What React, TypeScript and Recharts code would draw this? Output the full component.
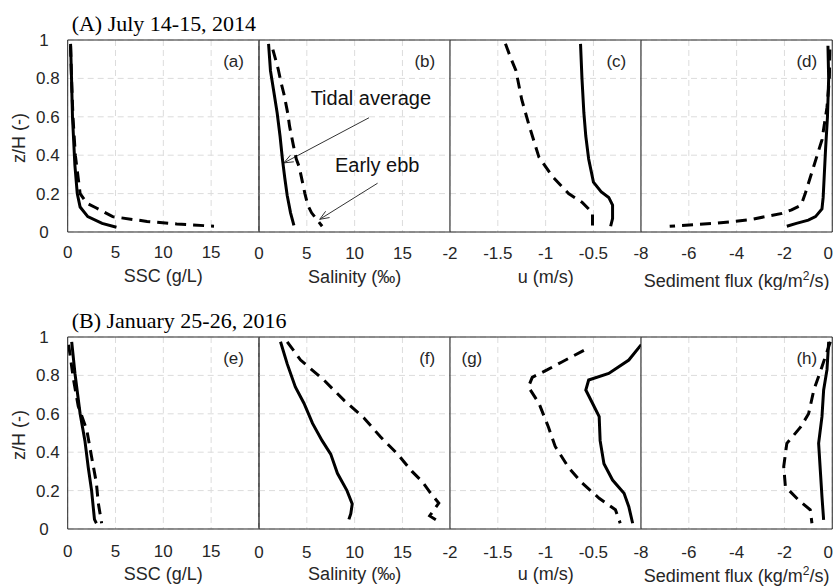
import React from 'react';
import {
  ScatterChart, Scatter, XAxis, YAxis, CartesianGrid, ReferenceLine, ReferenceDot, ReferenceArea,
} from 'recharts';

type Pt = [number, number]; // [value, z/H]

// (A) July 14-15, 2014 — solid = tidal average, dashed = early ebb
const sscJulTidal: Pt[] = [[0.3, 0.98], [0.4, 0.8], [0.5, 0.6], [0.75, 0.35], [1.0, 0.2], [1.3, 0.13], [2.1, 0.08], [3.6, 0.045], [5.1, 0.025]];
const sscJulEbb: Pt[] = [[0.3, 0.97], [0.4, 0.8], [0.55, 0.6], [0.8, 0.4], [1.3, 0.2], [2.0, 0.15], [3.0, 0.125], [4.7, 0.08], [8.3, 0.055], [11.4, 0.042], [15.3, 0.03]];
const salJulTidal: Pt[] = [[1.0, 0.98], [1.2, 0.84], [1.55, 0.73], [1.9, 0.62], [2.2, 0.5], [2.45, 0.38], [2.7, 0.28], [2.95, 0.19], [3.3, 0.1], [3.65, 0.035]];
const salJulEbb: Pt[] = [[1.45, 0.95], [2.0, 0.85], [2.3, 0.78], [2.6, 0.72], [3.0, 0.62], [3.2, 0.55], [3.6, 0.45], [3.9, 0.38], [4.2, 0.34], [4.5, 0.27], [4.8, 0.2], [5.1, 0.14], [5.5, 0.1], [6.6, 0.03]];
const uJulTidal: Pt[] = [[-0.635, 0.98], [-0.62, 0.8], [-0.6, 0.62], [-0.58, 0.5], [-0.55, 0.38], [-0.5, 0.26], [-0.42, 0.21], [-0.34, 0.18], [-0.3, 0.14], [-0.3, 0.07], [-0.32, 0.03]];
const uJulEbb: Pt[] = [[-1.42, 0.98], [-1.36, 0.9], [-1.31, 0.84], [-1.25, 0.69], [-1.17, 0.55], [-1.07, 0.39], [-0.93, 0.29], [-0.76, 0.2], [-0.62, 0.155], [-0.51, 0.1], [-0.51, 0.03]];
const fluxJulTidal: Pt[] = [[-0.18, 0.97], [-0.15, 0.8], [-0.2, 0.6], [-0.28, 0.43], [-0.34, 0.28], [-0.38, 0.18], [-0.43, 0.12], [-0.7, 0.08], [-1.0, 0.062], [-1.5, 0.045], [-1.9, 0.03]];
const fluxJulEbb: Pt[] = [[-0.1, 0.95], [-0.12, 0.8], [-0.22, 0.65], [-0.43, 0.48], [-0.78, 0.34], [-1.13, 0.2], [-1.3, 0.14], [-1.7, 0.115], [-2.1, 0.097], [-3.5, 0.063], [-4.9, 0.045], [-6.8, 0.03]];

// (B) January 25-26, 2016
const sscJanTidal: Pt[] = [[0.42, 0.975], [0.76, 0.81], [1.3, 0.6], [1.8, 0.46], [2.15, 0.32], [2.5, 0.2], [2.7, 0.1], [2.8, 0.05], [3.0, 0.03]];
const sscJanEbb: Pt[] = [[0.1, 0.96], [0.6, 0.78], [1.1, 0.64], [2.0, 0.515], [2.5, 0.375], [3.0, 0.24], [3.2, 0.135], [3.55, 0.03]];
const salJanTidal: Pt[] = [[2.25, 0.975], [2.95, 0.86], [3.8, 0.74], [4.7, 0.655], [5.6, 0.55], [6.6, 0.46], [7.5, 0.39], [8.2, 0.29], [9.2, 0.2], [9.75, 0.13], [9.6, 0.08], [9.4, 0.05]];
const salJanEbb: Pt[] = [[2.95, 0.975], [4.35, 0.88], [6.8, 0.775], [8.9, 0.67], [11.0, 0.577], [12.7, 0.48], [14.5, 0.39], [16.0, 0.3], [17.1, 0.245], [17.9, 0.19], [18.8, 0.135], [17.85, 0.068], [18.8, 0.038]];
const uJanTidal: Pt[] = [[0.0, 0.96], [-0.13, 0.88], [-0.34, 0.81], [-0.55, 0.776], [-0.58, 0.724], [-0.51, 0.655], [-0.44, 0.585], [-0.43, 0.46], [-0.39, 0.34], [-0.3, 0.255], [-0.18, 0.186], [-0.13, 0.116], [-0.09, 0.03]];
const uJanEbb: Pt[] = [[-0.6, 0.93], [-0.83, 0.87], [-0.98, 0.83], [-1.14, 0.79], [-1.18, 0.74], [-1.07, 0.655], [-0.97, 0.53], [-0.9, 0.43], [-0.76, 0.32], [-0.62, 0.24], [-0.44, 0.16], [-0.27, 0.1], [-0.22, 0.03]];
const fluxJanTidal: Pt[] = [[-0.15, 0.975], [-0.22, 0.83], [-0.36, 0.724], [-0.43, 0.585], [-0.57, 0.446], [-0.5, 0.307], [-0.43, 0.168], [-0.36, 0.047]];
const fluxJanEbb: Pt[] = [[-0.08, 0.975], [-0.43, 0.845], [-0.77, 0.724], [-0.99, 0.6], [-1.33, 0.53], [-1.9, 0.446], [-2.03, 0.325], [-1.96, 0.22], [-1.4, 0.15], [-0.92, 0.1], [-0.85, 0.03]];

// axes
const zTicks = [0, 0.2, 0.4, 0.6, 0.8, 1];
const sscTicks = [0, 5, 10, 15];
const salTicks = [0, 5, 10, 15];
const uTicks = [-2, -1.5, -1, -0.5];
const fluxTicks = [-8, -6, -4, -2, 0];
const rowTitles = ['(A) July 14-15, 2014', '(B) January 25-26, 2016'];

// annotations in panel (b), data coords
const tidalNote = { v: 5.4, z: 0.7, text: 'Tidal average', tail: { x: 11.5, y: 0.595 }, head: { x: 2.6, y: 0.36 } };
const ebbNote = { v: 7.95, z: 0.352, text: 'Early ebb', tail: { x: 12.4, y: 0.254 }, head: { x: 6.35, y: 0.066 } };

const FONT = "'Liberation Sans', Arial, sans-serif";
const SERIF = "'Liberation Serif', 'Times New Roman', serif";
const AX = '#262626';
const TXT = '#262626';
const GRID = '#dcdcdc';

const PLOT_LEFT = 67.7;
const PW = 191.25;
const PH = 192;
const ROW_TOP = [40, 337];
const MT = 40;
const XH = 58;
const PAD = 14; // overlap so edge tick labels are not cut

interface PanelCfg {
  row: number;
  col: number;
  tag: string;
  label: string;
  domain: [number, number];
  ticks: number[];
  tidal: Pt[];
  ebb: Pt[];
}

const panels: PanelCfg[] = [
  { row: 0, col: 0, tag: '(a)', label: 'SSC (g/L)', domain: [0, 20], ticks: sscTicks, tidal: sscJulTidal, ebb: sscJulEbb },
  { row: 0, col: 1, tag: '(b)', label: 'Salinity (‰)', domain: [0, 20], ticks: salTicks, tidal: salJulTidal, ebb: salJulEbb },
  { row: 0, col: 2, tag: '(c)', label: 'u (m/s)', domain: [-2, 0], ticks: uTicks, tidal: uJulTidal, ebb: uJulEbb },
  { row: 0, col: 3, tag: '(d)', label: 'flux', domain: [-8, 0], ticks: fluxTicks, tidal: fluxJulTidal, ebb: fluxJulEbb },
  { row: 1, col: 0, tag: '(e)', label: 'SSC (g/L)', domain: [0, 20], ticks: sscTicks, tidal: sscJanTidal, ebb: sscJanEbb },
  { row: 1, col: 1, tag: '(f)', label: 'Salinity (‰)', domain: [0, 20], ticks: salTicks, tidal: salJanTidal, ebb: salJanEbb },
  { row: 1, col: 2, tag: '(g)', label: 'u (m/s)', domain: [-2, 0], ticks: uTicks, tidal: uJanTidal, ebb: uJanEbb },
  { row: 1, col: 3, tag: '(h)', label: 'flux', domain: [-8, 0], ticks: fluxTicks, tidal: fluxJanTidal, ebb: fluxJanEbb },
];

const toPts = (arr: Pt[]) => arr.map(([v, z]) => ({ v, z }));
const noDot = () => <g />;

const Arrow = (props: any) => {
  const { x1, y1, x2, y2 } = props;
  const a = Math.atan2(y2 - y1, x2 - x1);
  const len = 10;
  const s = 0.38;
  const p1 = `${x2 - len * Math.cos(a - s)},${y2 - len * Math.sin(a - s)}`;
  const p2 = `${x2 - len * Math.cos(a + s)},${y2 - len * Math.sin(a + s)}`;
  return (
    <g>
      <line x1={x1} y1={y1} x2={x2} y2={y2} stroke="#333" strokeWidth={1} />
      <polyline points={`${p1} ${x2},${y2} ${p2}`} fill="none" stroke="#333" strokeWidth={1} />
    </g>
  );
};

const noteText = (text: string) => (props: any) => {
  const { x, y } = props.viewBox;
  return (
    <text x={x} y={y} dy="0.355em" textAnchor="start" fill="#111" fontSize={20} fontFamily={FONT}>{text}</text>
  );
};

function Panel({ p }: { p: PanelCfg }) {
  const first = p.col === 0;
  const ml = first ? PLOT_LEFT : PAD;
  const mr = first ? 40 : p.col === 3 ? 4 : 0;
  const left = PLOT_LEFT + p.col * PW - ml;
  const top = ROW_TOP[p.row] - MT;
  const bottom = MT + PH; // plot bottom in chart coords
  const tagLeft = p.tag === '(g)';
  const tickBase = p.row === 0 ? 26.5 : 28.5;
  const labelBase = p.label === 'flux' ? (p.row === 0 ? 55 : 52.5) : p.row === 0 ? 50.5 : 51;

  const XTick = (props: any) => {
    // the last label sits on the figure edge; nudge it inside like the original
    const edge = p.col === 3 && props.payload.value === p.domain[1] ? -4 : 0;
    return (
      <text x={props.x + edge} y={bottom + tickBase} textAnchor="middle" fill={TXT} fontSize={17} fontFamily={FONT}>
        {props.payload.value}
      </text>
    );
  };
  const ZTick = (props: any) => {
    const shift = Number.isInteger(props.payload.value) ? 11 : 0;
    return (
      <text x={PLOT_LEFT - 8 - shift} y={props.y} dy="0.355em" textAnchor="end" fill={TXT} fontSize={17} fontFamily={FONT}>
        {props.payload.value}
      </text>
    );
  };
  const xLabel = () => {
    const cx = ml + PW / 2;
    const y = bottom + labelBase;
    if (p.label === 'flux') {
      return (
        <text x={cx} y={y} textAnchor="middle" fill={TXT} fontSize={18} fontFamily={FONT}>
          <tspan>Sediment flux (kg/m</tspan>
          <tspan dy={-7} fontSize={12}>2</tspan>
          <tspan dy={7}>/s)</tspan>
        </text>
      );
    }
    return <text x={cx} y={y} textAnchor="middle" fill={TXT} fontSize={18} fontFamily={FONT}>{p.label}</text>;
  };
  const zLabel = () => {
    const cx = 18.5;
    const cy = MT + PH / 2 + 2;
    return (
      <text x={cx} y={cy} transform={`rotate(-90, ${cx}, ${cy})`} textAnchor="middle" dy="0.355em"
        fill={TXT} fontSize={18} fontFamily={FONT}>z/H (-)</text>
    );
  };
  const tagContent = (props: any) => {
    const { x, y } = props.viewBox;
    return (
      <text x={tagLeft ? x + 11.5 : x - 15} y={y + 21} dy="0.355em" textAnchor={tagLeft ? 'start' : 'end'}
        fill={TXT} fontSize={17} fontFamily={FONT}>{p.tag}</text>
    );
  };
  const titleContent = (props: any) => {
    const { x, y } = props.viewBox;
    return (
      <text x={x + 4} y={y - 9} textAnchor="start" fill="#000" fontSize={22} fontFamily={SERIF}>{rowTitles[p.row]}</text>
    );
  };

  const tickAxis = { type: 'number' as const, interval: 0, tick: false, axisLine: false, tickSize: 4, tickLine: { stroke: AX }, allowDataOverflow: true };

  return (
    <div style={{ position: 'absolute', left, top }}>
      <ScatterChart width={ml + PW + mr} height={MT + PH + XH} margin={{ top: MT, right: mr, bottom: 0, left: first ? 0 : PAD }}>
        <CartesianGrid stroke={GRID} strokeDasharray="6 4" />
        <XAxis type="number" dataKey="v" domain={p.domain} ticks={p.ticks} interval={0} height={XH}
          allowDataOverflow axisLine={false} tickLine={false} tick={<XTick />} label={{ content: xLabel }} />
        <YAxis type="number" dataKey="z" domain={[0, 1]} ticks={zTicks} interval={0} width={first ? ml : 0}
          hide={!first} allowDataOverflow axisLine={false} tickLine={false}
          tick={<ZTick />} label={{ content: zLabel }} />
        {/* inward tick marks on all four sides */}
        <XAxis xAxisId="tb" orientation="bottom" mirror domain={p.domain} ticks={p.ticks} height={10} {...tickAxis} />
        <XAxis xAxisId="tt" orientation="top" mirror domain={p.domain} ticks={p.ticks} height={10} {...tickAxis} />
        <YAxis yAxisId="yl" orientation="left" mirror domain={[0, 1]} ticks={zTicks} width={10} {...tickAxis} />
        <YAxis yAxisId="yr" orientation="right" mirror domain={[0, 1]} ticks={zTicks} width={10} {...tickAxis} />
        <ReferenceArea x1={p.domain[0]} x2={p.domain[1]} y1={0} y2={1} fill="none" stroke={AX} strokeWidth={1}
          ifOverflow="visible" />
        <Scatter data={toPts(p.tidal)} line={{ stroke: '#000', strokeWidth: 3 }} shape={noDot}
          isAnimationActive={false} />
        <Scatter data={toPts(p.ebb)} line={{ stroke: '#000', strokeWidth: 3, strokeDasharray: '11 7' }} shape={noDot}
          isAnimationActive={false} />
        <ReferenceDot x={tagLeft ? p.domain[0] : p.domain[1]} y={1} r={0.01} fill="none" stroke="none"
          label={{ content: tagContent }} />
        {first && (
          <ReferenceDot x={p.domain[0]} y={1} r={0.01} fill="none" stroke="none" label={{ content: titleContent }} />
        )}
        {p.tag === '(b)' && [tidalNote, ebbNote].map((n) => (
          <ReferenceLine key={`a-${n.text}`} segment={[n.tail, n.head]} shape={Arrow} />
        ))}
        {p.tag === '(b)' && [tidalNote, ebbNote].map((n) => (
          <ReferenceDot key={`t-${n.text}`} x={n.v} y={n.z} r={0.01} fill="none" stroke="none"
            label={{ content: noteText(n.text) }} />
        ))}
      </ScatterChart>
    </div>
  );
}

export default function App() {
  return (
    <div style={{ position: 'absolute', left: 0, top: 0, width: 835, height: 586, overflow: 'hidden', background: '#fff' }}>
      {panels.map((p) => (
        <Panel key={p.tag} p={p} />
      ))}
    </div>
  );
}
